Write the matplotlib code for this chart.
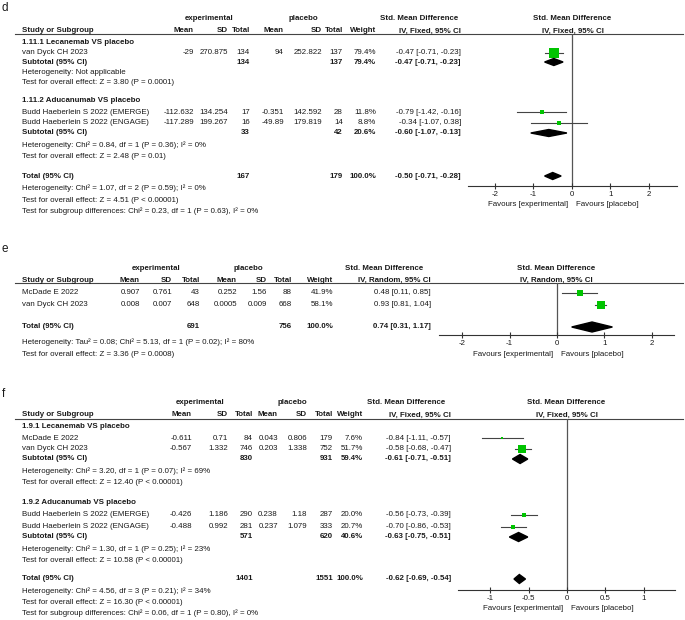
import matplotlib
matplotlib.use('Agg')
import matplotlib.pyplot as plt
from matplotlib.patches import Polygon
import numpy as np

plt.rcParams['font.family'] = ['Liberation Sans', 'DejaVu Sans']
plt.rcParams['axes.unicode_minus'] = False

# ---- panel d : Lecanemab / Aducanumab, IV fixed ----
d_groups = ['1.11.1 Lecanemab VS placebo', '1.11.2 Aducanumab VS placebo']
d_study = ['van Dyck CH 2023', 'Budd Haeberlein S 2022 (EMERGE)', 'Budd Haeberlein S 2022 (ENGAGE)']
d_exp_mean = [-29, -112.632, -117.289]
d_exp_sd = [270.875, 134.254, 199.267]
d_exp_n = [134, 17, 16]
d_pla_mean = [94, -0.351, -49.89]
d_pla_sd = [252.822, 142.592, 179.819]
d_pla_n = [137, 28, 14]
d_weight = [79.4, 11.8, 8.8]
d_smd = [-0.47, -0.79, -0.34]
d_lo = [-0.71, -1.42, -1.07]
d_hi = [-0.23, -0.16, 0.38]
d_sub_exp_n = [134, 33]
d_sub_pla_n = [137, 42]
d_sub_w = [79.4, 20.6]
d_sub_smd = [-0.47, -0.60]
d_sub_lo = [-0.71, -1.07]
d_sub_hi = [-0.23, -0.13]
d_sub_het = ['Heterogeneity: Not applicable',
             'Heterogeneity: Chi² = 0.84, df = 1 (P = 0.36); I² = 0%']
d_sub_z = ['Test for overall effect: Z = 3.80 (P = 0.0001)',
           'Test for overall effect: Z = 2.48 (P = 0.01)']
d_tot_n = [167, 179]
d_tot = [-0.50, -0.71, -0.28]
d_foot = ['Heterogeneity: Chi² = 1.07, df = 2 (P = 0.59); I² = 0%',
          'Test for overall effect: Z = 4.51 (P < 0.00001)',
          'Test for subgroup differences: Chi² = 0.23, df = 1 (P = 0.63), I² = 0%']
d_ticks = [-2, -1, 0, 1, 2]

# ---- panel e : IV random ----
e_study = ['McDade E 2022', 'van Dyck CH 2023']
e_exp_mean = [0.907, 0.008]
e_exp_sd = [0.761, 0.007]
e_exp_n = [43, 648]
e_pla_mean = [0.252, 0.0005]
e_pla_sd = [1.56, 0.009]
e_pla_n = [88, 668]
e_weight = [41.9, 58.1]
e_smd = [0.48, 0.93]
e_lo = [0.11, 0.81]
e_hi = [0.85, 1.04]
e_tot_n = [691, 756]
e_tot = [0.74, 0.31, 1.17]
e_foot = ['Heterogeneity: Tau² = 0.08; Chi² = 5.13, df = 1 (P = 0.02); I² = 80%',
          'Test for overall effect: Z = 3.36 (P = 0.0008)']
e_ticks = [-2, -1, 0, 1, 2]

# ---- panel f : IV fixed ----
f_groups = ['1.9.1 Lecanemab VS placebo', '1.9.2 Aducanumab VS placebo']
f_study = ['McDade E 2022', 'van Dyck CH 2023',
           'Budd Haeberlein S 2022 (EMERGE)', 'Budd Haeberlein S 2022 (ENGAGE)']
f_exp_mean = [-0.611, -0.567, -0.426, -0.488]
f_exp_sd = [0.71, 1.332, 1.186, 0.992]
f_exp_n = [84, 746, 290, 281]
f_pla_mean = [0.043, 0.203, 0.238, 0.237]
f_pla_sd = [0.806, 1.338, 1.18, 1.079]
f_pla_n = [179, 752, 287, 333]
f_weight = [7.6, 51.7, 20.0, 20.7]
f_smd = [-0.84, -0.58, -0.56, -0.70]
f_lo = [-1.11, -0.68, -0.73, -0.86]
f_hi = [-0.57, -0.47, -0.39, -0.53]
f_sub_exp_n = [830, 571]
f_sub_pla_n = [931, 620]
f_sub_w = [59.4, 40.6]
f_sub_smd = [-0.61, -0.63]
f_sub_lo = [-0.71, -0.75]
f_sub_hi = [-0.51, -0.51]
f_sub_het = ['Heterogeneity: Chi² = 3.20, df = 1 (P = 0.07); I² = 69%',
             'Heterogeneity: Chi² = 1.30, df = 1 (P = 0.25); I² = 23%']
f_sub_z = ['Test for overall effect: Z = 12.40 (P < 0.00001)',
           'Test for overall effect: Z = 10.58 (P < 0.00001)']
f_tot_n = [1401, 1551]
f_tot = [-0.62, -0.69, -0.54]
f_foot = ['Heterogeneity: Chi² = 4.56, df = 3 (P = 0.21); I² = 34%',
          'Test for overall effect: Z = 16.30 (P < 0.00001)',
          'Test for subgroup differences: Chi² = 0.06, df = 1 (P = 0.80), I² = 0%']
f_ticks = [-1, -0.5, 0, 0.5, 1]

W, H = 685, 620
FS = 5.7
GREEN = '#00c400'
INK = '#1a1a1a'

fig = plt.figure(figsize=(W / 100, H / 100), dpi=100)
bg = fig.add_axes([0, 0, 1, 1])
bg.set_xlim(0, W)
bg.set_ylim(H, 0)
bg.axis('off')


def t(x, y, s, ha='left', bold=False, size=FS):
    bg.text(x, y, s, ha=ha, va='center', fontsize=size, color=INK,
            fontweight='bold' if bold else 'normal')


def ci(m, l, h):
    return f'{m:.2f} [{l:.2f}, {h:.2f}]'


def lab(v):
    return f'{v:g}'


def draw_panel(D, L):
    cols = L['cols']
    t(2, L['y_letter'], L['letter'], size=8.5)
    # table header
    t(L['exp_c'], L['y_exp'], 'experimental', ha='center', bold=True)
    t(L['pla_c'], L['y_exp'], 'placebo', ha='center', bold=True)
    t(L['smd_c'], L['y_exp'], 'Std. Mean Difference', ha='center', bold=True)
    t(22, L['y_hdr'], 'Study or Subgroup', bold=True)
    for x, s in zip(cols, ['Mean', 'SD', 'Total', 'Mean', 'SD', 'Total', 'Weight', L['ci_name']]):
        t(x, L['y_hdr'], s, ha='right', bold=True)
    bg.plot([15, 683], [L['y_line']] * 2, color='#444444', lw=0.8)

    # forest axes
    x0, x1 = L['px']
    ax = fig.add_axes([x0 / W, 1 - L['y_axis'] / H, (x1 - x0) / W,
                       (L['y_axis'] - L['y_line']) / H])
    ax.set_xlim(L['xlim'])
    ax.set_ylim(L['y_axis'], L['y_line'])
    ax.patch.set_visible(False)
    for s in ['top', 'left', 'right']:
        ax.spines[s].set_visible(False)
    ax.spines['bottom'].set_color('#333333')
    ax.spines['bottom'].set_linewidth(0.8)
    ax.set_yticks([])
    ax.set_xticks(D['ticks'])
    ax.set_xticklabels([lab(v) for v in D['ticks']])
    ax.tick_params(axis='x', direction='inout', length=4, width=0.8,
                   labelsize=FS, pad=1.5, colors='#333333', labelcolor=INK)
    ax.axvline(0, color='#555555', lw=0.9, zorder=1)
    cx = (x0 + x1) / 2
    t(cx, L['y_exp'], 'Std. Mean Difference', ha='center', bold=True)
    t(cx, L['y_hdr'], L['ci_name'], ha='center', bold=True)
    ax.annotate('Favours [experimental]', xy=(0, L['y_fav']), xytext=(-3, 0),
                textcoords='offset points', ha='right', va='center',
                fontsize=FS, color=INK, annotation_clip=False)
    ax.annotate('Favours [placebo]', xy=(0, L['y_fav']), xytext=(3, 0),
                textcoords='offset points', ha='left', va='center',
                fontsize=FS, color=INK, annotation_clip=False)

    dh = L['dh']

    def diamond(y, m, l, h):
        ax.add_patch(Polygon([(l, y), (m, y - dh), (h, y), (m, y + dh)],
                             closed=True, color='black', zorder=3, clip_on=False))

    # studies
    for i, name in enumerate(D['study']):
        y = L['y_study'][i]
        t(22, y, name)
        vals = [D['emean'][i], D['esd'][i], D['en'][i],
                D['pmean'][i], D['psd'][i], D['pn'][i]]
        for x, v in zip(cols[:6], vals):
            t(x, y, str(v), ha='right')
        t(cols[6], y, f"{D['w'][i]:.1f}%", ha='right')
        t(cols[7], y, ci(D['smd'][i], D['lo'][i], D['hi'][i]), ha='right')
        ax.plot([D['lo'][i], D['hi'][i]], [y, y], color='#444444', lw=0.8, zorder=2)
        ax.plot(D['smd'][i], y, marker='s', ms=np.sqrt(D['w'][i]) * 0.75,
                color=GREEN, mew=0, ls='none', zorder=3)

    # subgroups
    for g, gname in enumerate(D.get('groups', [])):
        t(22, L['y_group'][g], gname, bold=True)
        y = L['y_sub'][g]
        t(22, y, 'Subtotal (95% CI)', bold=True)
        t(cols[2], y, str(D['sub_en'][g]), ha='right', bold=True)
        t(cols[5], y, str(D['sub_pn'][g]), ha='right', bold=True)
        t(cols[6], y, f"{D['sub_w'][g]:.1f}%", ha='right', bold=True)
        t(cols[7], y, ci(D['sub_smd'][g], D['sub_lo'][g], D['sub_hi'][g]), ha='right', bold=True)
        diamond(y, D['sub_smd'][g], D['sub_lo'][g], D['sub_hi'][g])
        t(22, L['y_het'][g], D['sub_het'][g])
        t(22, L['y_z'][g], D['sub_z'][g])

    # overall
    y = L['y_total']
    t(22, y, 'Total (95% CI)', bold=True)
    t(cols[2], y, str(D['tot_n'][0]), ha='right', bold=True)
    t(cols[5], y, str(D['tot_n'][1]), ha='right', bold=True)
    t(cols[6], y, '100.0%', ha='right', bold=True)
    t(cols[7], y, ci(*D['tot']), ha='right', bold=True)
    diamond(y, *D['tot'])
    for s, yy in zip(D['foot'], L['y_foot']):
        t(22, yy, s)


draw_panel(
    dict(study=d_study, emean=d_exp_mean, esd=d_exp_sd, en=d_exp_n,
         pmean=d_pla_mean, psd=d_pla_sd, pn=d_pla_n, w=d_weight,
         smd=d_smd, lo=d_lo, hi=d_hi, groups=d_groups,
         sub_en=d_sub_exp_n, sub_pn=d_sub_pla_n, sub_w=d_sub_w,
         sub_smd=d_sub_smd, sub_lo=d_sub_lo, sub_hi=d_sub_hi,
         sub_het=d_sub_het, sub_z=d_sub_z, tot_n=d_tot_n, tot=d_tot,
         foot=d_foot, ticks=d_ticks),
    dict(letter='d', y_letter=8, y_exp=19, y_hdr=31, y_line=34,
         cols=[194, 228, 250, 284, 322, 343, 376, 461],
         exp_c=209, pla_c=303, smd_c=419, ci_name='IV, Fixed, 95% CI',
         px=(468, 677), xlim=(-2.70, 2.73), y_axis=186, y_fav=205, dh=3.5,
         y_study=[53, 112, 123], y_group=[43, 101], y_sub=[62, 133],
         y_het=[72, 145], y_z=[82, 156], y_total=176, y_foot=[188, 200, 211]))

draw_panel(
    dict(study=e_study, emean=e_exp_mean, esd=e_exp_sd, en=e_exp_n,
         pmean=e_pla_mean, psd=e_pla_sd, pn=e_pla_n, w=e_weight,
         smd=e_smd, lo=e_lo, hi=e_hi, tot_n=e_tot_n, tot=e_tot,
         foot=e_foot, ticks=e_ticks),
    dict(letter='e', y_letter=249, y_exp=268, y_hdr=280, y_line=283,
         cols=[140, 172, 200, 237, 267, 292, 333, 431],
         exp_c=156, pla_c=248, smd_c=384, ci_name='IV, Random, 95% CI',
         px=(439, 674), xlim=(-2.49, 2.47), y_axis=335, y_fav=355, dh=5,
         y_study=[293, 305], y_total=327, y_foot=[342, 355]))

draw_panel(
    dict(study=f_study, emean=f_exp_mean, esd=f_exp_sd, en=f_exp_n,
         pmean=f_pla_mean, psd=f_pla_sd, pn=f_pla_n, w=f_weight,
         smd=f_smd, lo=f_lo, hi=f_hi, groups=f_groups,
         sub_en=f_sub_exp_n, sub_pn=f_sub_pla_n, sub_w=f_sub_w,
         sub_smd=f_sub_smd, sub_lo=f_sub_lo, sub_hi=f_sub_hi,
         sub_het=f_sub_het, sub_z=f_sub_z, tot_n=f_tot_n, tot=f_tot,
         foot=f_foot, ticks=f_ticks),
    dict(letter='f', y_letter=394, y_exp=403, y_hdr=415, y_line=419,
         cols=[192, 228, 253, 278, 307, 333, 363, 451],
         exp_c=200, pla_c=292, smd_c=406, ci_name='IV, Fixed, 95% CI',
         px=(458, 675), xlim=(-1.42, 1.41), y_axis=590, y_fav=609, dh=4.5,
         y_study=[438, 449, 515, 527], y_group=[427, 503], y_sub=[459, 537],
         y_het=[471, 549], y_z=[483, 561], y_total=579, y_foot=[591, 602, 613]))

fig.savefig('out.png', dpi=100)
